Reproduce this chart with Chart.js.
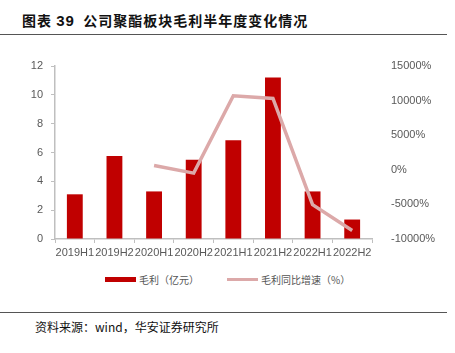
<!DOCTYPE html>
<html>
<head>
<meta charset="utf-8">
<script src="https://cdn.jsdelivr.net/npm/chart.js@4/dist/chart.umd.min.js"></script>
<style>
  body { margin: 0; background: #fff; font-family: "Liberation Sans", Arial, sans-serif; }
  #wrap { position: relative; width: 455px; height: 353px; overflow: hidden; }
  .title { position: absolute; left: 22px; top: 10px; font-size: 14px; font-weight: bold; color: #111;
           font-family: "Noto Sans CJK SC", sans-serif; letter-spacing: 1px; }
  .title b { font-family: "Liberation Sans", Arial, sans-serif; font-size: 15px; }
  .rule { position: absolute; left: 0; width: 447px; height: 1px; background: #555; }
  #box { position: absolute; left: 0; top: 40px; width: 455px; height: 225px; }
  .legend { position: absolute; top: 272px; font-size: 10px; color: #555; font-family: "Noto Sans CJK SC", sans-serif; display: flex; align-items: center; }
  .legend i { display: inline-block; width: 31px; margin-right: 3px; }
  .source { position: absolute; left: 35px; top: 318px; font-size: 12px; color: #111; font-family: "Noto Sans CJK SC", sans-serif; }
</style>
</head>
<body>
<div id="wrap">
  <div class="title">图表 <b>39</b>&nbsp; 公司聚酯板块毛利半年度变化情况</div>
  <div class="rule" style="top:34px"></div>
  <div id="box"><canvas id="chart"></canvas></div>
  <div class="legend" style="left:105px"><i style="height:5px;background:#C00000"></i>毛利（亿元）</div>
  <div class="legend" style="left:227px"><i style="height:3px;background:#DCA9A9"></i>毛利同比增速（%）</div>
  <div class="rule" style="top:312px"></div>
  <div class="source">资料来源：wind，华安证券研究所</div>
</div>
<script>
const categories = ['2019H1', '2019H2', '2020H1', '2020H2', '2021H1', '2021H2', '2022H1', '2022H2'];
const grossProfit = [3.1, 5.75, 3.3, 5.5, 6.85, 11.2, 3.3, 1.35];
const growthPct = [null, null, 620, -480, 10690, 10310, -5040, -8780];
const leftTicks = [0, 2, 4, 6, 8, 10, 12];
const rightTicks = [-10000, -5000, 0, 5000, 10000, 15000];

const axisGray = '#BFBFBF';
const labelColor = '#595959';
const tickFont = { family: '"Liberation Sans", Arial, sans-serif', size: 11 };

new Chart(document.getElementById('chart'), {
  data: {
    labels: categories,
    datasets: [
      {
        type: 'line',
        label: '毛利同比增速（%）',
        data: growthPct,
        yAxisID: 'y1',
        borderColor: '#DCA9A9',
        borderWidth: 3.5,
        pointRadius: 0,
        tension: 0,
        order: 0
      },
      {
        type: 'bar',
        label: '毛利（亿元）',
        data: grossProfit,
        yAxisID: 'y',
        backgroundColor: '#C00000',
        barPercentage: 0.4,
        categoryPercentage: 1,
        order: 1
      }
    ]
  },
  options: {
    responsive: true,
    maintainAspectRatio: false,
    animation: false,
    layout: { padding: { top: 26, bottom: 0, left: 0, right: 0 } },
    plugins: {
      legend: { display: false },
      tooltip: { enabled: false }
    },
    scales: {
      x: {
        grid: { drawOnChartArea: false, color: axisGray, tickLength: 4, offset: true },
        border: { color: axisGray, width: 1.5 },
        ticks: { color: labelColor, font: tickFont, autoSkip: false, maxRotation: 0, padding: 3 },
        afterFit: (s) => { s.height = 26; }
      },
      y: {
        position: 'left',
        min: 0,
        max: 12,
        afterBuildTicks: (s) => { s.ticks = leftTicks.map(v => ({ value: v })); },
        grid: { drawOnChartArea: false, color: axisGray, tickLength: 4 },
        border: { color: axisGray, width: 1.5 },
        ticks: { color: labelColor, font: tickFont, padding: 8 },
        afterFit: (s) => { s.width = 55; }
      },
      y1: {
        position: 'right',
        min: -10000,
        max: 15000,
        afterBuildTicks: (s) => { s.ticks = rightTicks.map(v => ({ value: v })); },
        grid: { display: false },
        border: { display: false },
        ticks: { color: labelColor, font: tickFont, padding: 11, callback: (v) => v + '%' },
        afterFit: (s) => { s.width = 83; }
      }
    }
  }
});
</script>
</body>
</html>
